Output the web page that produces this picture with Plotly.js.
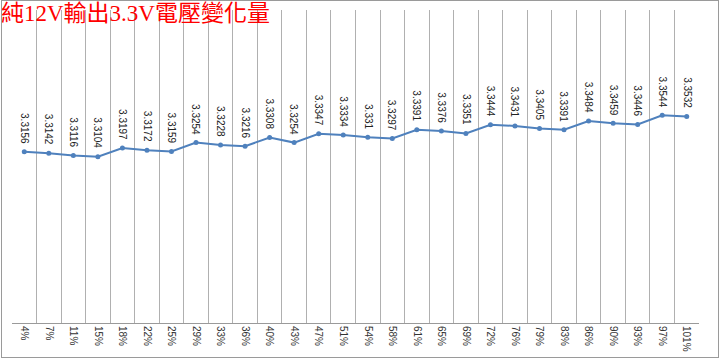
<!DOCTYPE html>
<html>
<head>
<meta charset="utf-8">
<script src="https://cdn.plot.ly/plotly-3.0.1.min.js"></script>
<style>
  html, body { margin: 0; padding: 0; background: #fff; }
  #wrap { position: relative; width: 720px; height: 358px; }
  #chart { width: 720px; height: 358px; }
  #frame { position: absolute; left: 1px; top: 0px; width: 716px; height: 356px; border: 1px solid #9a9a9a; pointer-events: none; }
</style>
</head>
<body>
<div id="wrap">
  <div id="chart"></div>
  <div id="frame"></div>
</div>
<script>
const categories = ["4%","7%","11%","15%","18%","22%","25%","29%","33%","36%","40%","43%","47%","51%","54%","58%","61%","65%","69%","72%","76%","79%","83%","86%","90%","93%","97%","101%"];
const voltages = [3.3156,3.3142,3.3116,3.3104,3.3197,3.3172,3.3159,3.3254,3.3228,3.3216,3.3308,3.3254,3.3347,3.3334,3.331,3.3297,3.3391,3.3376,3.3351,3.3444,3.3431,3.3405,3.3391,3.3484,3.3459,3.3446,3.3544,3.3532];
const labels = ["3.3156","3.3142","3.3116","3.3104","3.3197","3.3172","3.3159","3.3254","3.3228","3.3216","3.3308","3.3254","3.3347","3.3334","3.331","3.3297","3.3391","3.3376","3.3351","3.3444","3.3431","3.3405","3.3391","3.3484","3.3459","3.3446","3.3544","3.3532"];
const titleText = "純12V輸出3.3V電壓變化量";

const trace = {
  type: 'scatter',
  mode: 'lines+markers',
  x: categories,
  y: voltages,
  line: { color: '#4F81BD', width: 2 },
  marker: { color: '#4F81BD', size: 5 },
  hoverinfo: 'none'
};

const annotations = categories.map((c, i) => ({
  x: c, y: voltages[i], xref: 'x', yref: 'y',
  text: labels[i], showarrow: false, textangle: 90,
  yanchor: 'bottom', xanchor: 'center', yshift: 6,
  font: { family: 'Liberation Sans, Arial, sans-serif', size: 10, color: '#222' }
}));

annotations.push({
  text: titleText, showarrow: false,
  xref: 'paper', yref: 'paper', x: -12 / 687, y: 1 + 10 / 313,
  xanchor: 'left', yanchor: 'top', borderpad: 0,
  font: { family: '"Liberation Serif", "Noto Sans CJK TC", serif', size: 23, color: '#FF0000' }
});

const layout = {
  width: 720, height: 358,
  margin: { l: 12, r: 21, t: 10, b: 35 },
  paper_bgcolor: '#fff', plot_bgcolor: '#fff',
  showlegend: false,
  xaxis: {
    type: 'category',
    range: [-0.5, categories.length - 0.5],
    autorange: false,
    automargin: false,
    tickson: 'boundaries',
    showgrid: true, gridcolor: '#b0b0b0', gridwidth: 1,
    showline: true, linecolor: '#9a9a9a', linewidth: 1,
    ticks: '', tickangle: 90,
    tickfont: { family: 'Liberation Sans, Arial, sans-serif', size: 10, color: '#333' },
    zeroline: false, fixedrange: true
  },
  yaxis: {
    range: [3.1337, 3.4663],
    autorange: false,
    automargin: false,
    showgrid: false, zeroline: false, showticklabels: false, showline: false, ticks: '',
    fixedrange: true
  },
  annotations: annotations
};

Plotly.newPlot('chart', [trace], layout, { displayModeBar: false, staticPlot: true });
</script>
</body>
</html>
